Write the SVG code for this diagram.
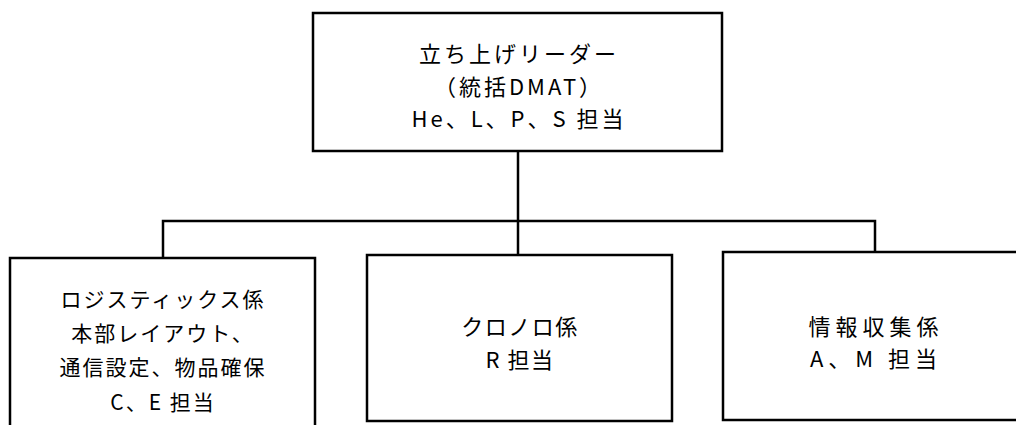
<svg xmlns="http://www.w3.org/2000/svg" width="1016" height="425" viewBox="0 0 1016 425">
<style>
.box{fill:#fff;stroke:#000;stroke-width:2.5}
.con{fill:none;stroke:#000;stroke-width:2.5}
text{font-family:"Noto Sans CJK JP","Noto Sans CJK SC",sans-serif;fill:#000;text-anchor:middle}
.t{font-size:22px;letter-spacing:3px}
.s{font-size:21px;letter-spacing:2px}
.m{font-size:22px;letter-spacing:1.5px}
.r{font-size:22px;letter-spacing:5px}
</style>
<rect width="1016" height="425" fill="#fff"/>
<g id="connectors">
<path class="con" d="M518,151 V255"/>
<path class="con" d="M163,258 V221 H875 V252"/>
</g>
<g id="leader">
<rect class="box" x="313" y="13" width="409" height="138"/>
<text class="t" x="519" y="62">立ち上げリーダー</text>
<text class="t" x="519" y="95">（統括DMAT）</text>
<text class="t" x="519" y="127">He、L、P、S 担当</text>
</g>
<g id="logistics">
<rect class="box" x="10" y="258" width="305" height="180"/>
<text class="s" x="163" y="307">ロジスティックス係</text>
<text class="s" x="163" y="341">本部レイアウト、</text>
<text class="s" x="163" y="375">通信設定、物品確保</text>
<text class="s" x="163" y="410">C、E 担当</text>
</g>
<g id="chronology">
<rect class="box" x="367" y="255" width="305" height="166"/>
<text class="m" x="520" y="335">クロノロ係</text>
<text class="m" x="520" y="368">R 担当</text>
</g>
<g id="info">
<rect class="box" x="723" y="252" width="320" height="168"/>
<text class="r" x="876" y="335">情報収集係</text>
<text class="r" x="876" y="367">A、M 担当</text>
</g>
</svg>
